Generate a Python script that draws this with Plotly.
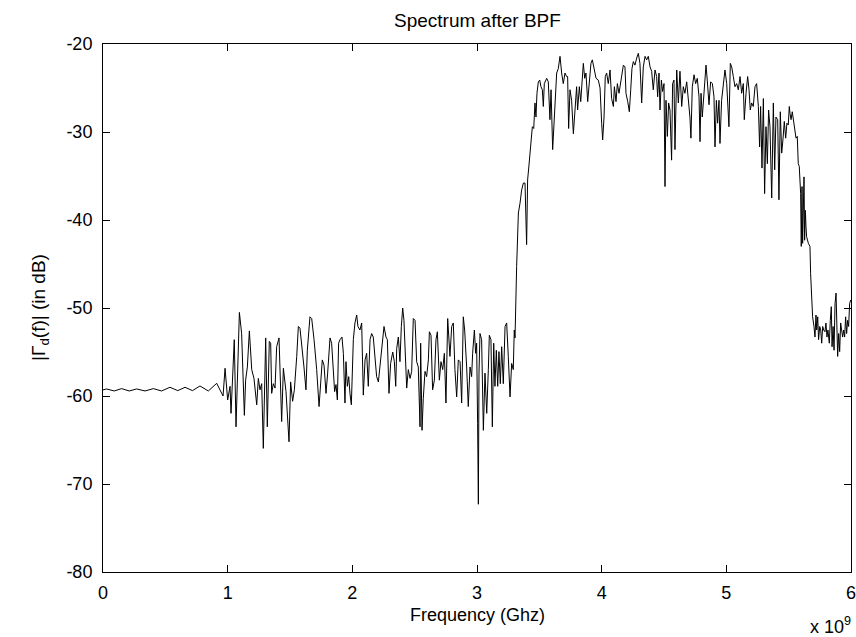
import plotly.graph_objects as go

# ---- data (frequency in GHz, level in dB) ----
flat_f = [0.000, 0.029, 0.090, 0.150, 0.210, 0.270, 0.337, 0.404, 0.470, 0.537,
          0.600, 0.658, 0.718, 0.778, 0.845, 0.912, 0.963]
flat_db = [-59.31, -59.20, -59.43, -59.16, -59.43, -59.20, -59.43, -59.16, -59.43, -59.01,
           -59.39, -59.01, -59.39, -58.86, -59.43, -58.56, -60.00]

low_f = [0.979, 1.000, 1.019, 1.027, 1.046, 1.053, 1.067, 1.080, 1.094, 1.112,
         1.134, 1.144, 1.158, 1.174, 1.193, 1.211, 1.233, 1.246, 1.259, 1.273,
         1.286, 1.305, 1.318, 1.334, 1.345, 1.353, 1.366, 1.380, 1.393, 1.412,
         1.433, 1.447, 1.468, 1.492, 1.505, 1.521, 1.535, 1.554, 1.567, 1.580,
         1.594, 1.612, 1.628, 1.639, 1.660, 1.674, 1.693, 1.714, 1.733, 1.746,
         1.759, 1.773, 1.789, 1.802, 1.816,
         1.821, 1.834, 1.848, 1.858, 1.869, 1.880, 1.890, 1.901, 1.917, 1.928,
         1.941, 1.949, 1.960, 1.971, 1.981, 1.992, 2.008, 2.021, 2.035, 2.045,
         2.061, 2.075, 2.088, 2.102, 2.115, 2.128, 2.142, 2.155, 2.168, 2.182,
         2.195, 2.209, 2.222, 2.235, 2.254, 2.270, 2.281, 2.294, 2.307, 2.324,
         2.337, 2.348, 2.356, 2.369, 2.382, 2.393, 2.404, 2.414, 2.428, 2.436,
         2.449, 2.463, 2.476, 2.489, 2.503, 2.516, 2.529, 2.543, 2.548, 2.559,
         2.569, 2.583, 2.596, 2.610, 2.618, 2.631, 2.644, 2.658, 2.671, 2.682,
         2.698, 2.711, 2.725, 2.738, 2.751, 2.757, 2.765, 2.783, 2.797, 2.810,
         2.823, 2.837, 2.850, 2.864, 2.877, 2.890, 2.901,
         2.917, 2.930, 2.944, 2.957, 2.965, 2.979, 2.989, 2.997, 3.005, 3.011,
         3.016, 3.024, 3.037, 3.051, 3.064, 3.078, 3.091, 3.099, 3.112, 3.123,
         3.134, 3.144, 3.155, 3.166, 3.176, 3.187, 3.198, 3.211, 3.225, 3.238,
         3.251, 3.265, 3.278, 3.291, 3.299, 3.305]
low_db = [-56.85, -60.45, -58.9, -61.97, -54.2, -53.6, -63.5, -56.3, -50.5, -52.9,
          -62.2, -58.2, -56.7, -52.6, -57.0, -58.0, -61.0, -58.0, -59.3, -58.6,
          -65.95, -53.4, -63.5, -53.8, -54.0, -59.7, -58.6, -59.1, -54.4, -53.4,
          -62.9, -56.85, -59.5, -65.2, -58.4, -60.6, -59.3, -55.5, -52.1, -52.3,
          -54.0, -56.7, -59.3, -54.8, -51.0, -51.2, -53.6, -57.0, -61.2, -58.2,
          -55.9, -56.5, -59.7, -57.4, -53.6,
          -53.4, -54.0, -58.2, -59.5, -58.7, -60.45, -54.0, -53.6, -53.3, -55.15,
          -60.8, -56.1, -58.9, -57.8, -59.7, -61.0, -53.6, -51.7, -50.8, -52.1,
          -52.5, -51.7, -59.9, -55.9, -55.15, -58.9, -53.6, -52.9, -53.3, -55.9,
          -57.8, -58.4, -56.7, -54.8, -52.1, -53.3, -53.6, -59.7, -56.3, -55.0,
          -56.1, -58.9, -54.6, -53.3, -56.1, -52.1, -50.0, -51.4, -55.7, -59.1,
          -57.0, -58.0, -57.2, -51.2, -51.4, -56.1, -56.7, -63.5, -54.0, -63.9,
          -60.3, -57.2, -57.8, -55.9, -52.7, -53.1, -59.3, -58.2, -53.6, -52.7,
          -58.2, -56.1, -57.0, -55.15, -60.8, -54.0, -51.2, -55.5, -52.1, -51.7,
          -57.0, -60.1, -55.9, -56.1, -60.8, -51.0, -52.5,
          -56.7, -61.2, -56.7, -57.8, -55.15, -52.5, -55.15, -54.0, -63.1, -72.3,
          -57.4, -52.9, -53.6, -63.9, -57.4, -61.97, -57.0, -53.1, -53.6, -63.5,
          -54.0, -58.9, -54.8, -58.9, -54.96, -58.6, -54.4, -58.6, -52.1, -51.7,
          -55.5, -60.1, -56.3, -57.0, -52.5, -53.4]

rise_f = [3.318, 3.332, 3.345, 3.358, 3.372, 3.385, 3.398, 3.406, 3.417, 3.433,
          3.444, 3.455, 3.465, 3.473, 3.481, 3.492, 3.503, 3.513, 3.524, 3.532,
          3.540]
rise_db = [-45.3, -39.2, -38.1, -36.6, -35.8, -35.8, -42.8, -35.45, -33.75, -30.9,
           -29.4, -29.6, -26.7, -28.3, -25.6, -24.3, -24.1, -24.85, -25.2, -27.1,
           -24.5]

band_f = [3.559, 3.572, 3.585, 3.594, 3.607, 3.618, 3.628, 3.639, 3.652, 3.666,
          3.679, 3.692, 3.706, 3.719, 3.727, 3.735, 3.746, 3.759, 3.773, 3.786,
          3.799, 3.807, 3.821, 3.832, 3.842, 3.853, 3.864, 3.874, 3.888, 3.901,
          3.914, 3.925, 3.938, 3.955, 3.973, 3.987, 4.000, 4.008, 4.019, 4.029,
          4.040, 4.053, 4.067, 4.080, 4.094, 4.102, 4.115, 4.126, 4.139, 4.152,
          4.163, 4.174, 4.187, 4.195, 4.209, 4.222, 4.233, 4.243, 4.254, 4.267,
          4.281, 4.294, 4.307, 4.321, 4.334, 4.348, 4.361, 4.374, 4.388, 4.401,
          4.414, 4.428, 4.441, 4.449, 4.460, 4.468, 4.479, 4.489, 4.500, 4.508,
          4.516, 4.527, 4.537, 4.548, 4.561, 4.569, 4.580, 4.588, 4.602, 4.615,
          4.628, 4.642, 4.655, 4.668, 4.682, 4.695, 4.708, 4.716, 4.727, 4.741,
          4.754, 4.767, 4.781, 4.789, 4.797, 4.807, 4.821, 4.837, 4.847, 4.861,
          4.874, 4.888, 4.901, 4.909, 4.920, 4.930, 4.941, 4.949, 4.962, 4.976,
          4.989, 5.003, 5.011, 5.021, 5.032, 5.043, 5.056, 5.069, 5.083, 5.096,
          5.110, 5.123, 5.136, 5.144, 5.158, 5.171, 5.182, 5.192, 5.203, 5.216,
          5.230, 5.243, 5.257, 5.267, 5.275, 5.286, 5.297, 5.307, 5.318, 5.329,
          5.339, 5.350, 5.364, 5.377, 5.388, 5.398, 5.412, 5.422, 5.433, 5.444,
          5.454, 5.465, 5.476, 5.486, 5.497, 5.505]
band_db = [-23.9, -24.3, -28.6, -25.2, -32.0, -28.6, -25.2, -23.3, -22.8, -21.4,
           -23.3, -24.5, -23.3, -23.7, -23.7, -29.6, -25.2, -26.4, -30.2, -27.1,
           -24.85, -27.5, -24.85, -26.55, -24.85, -22.2, -23.9, -23.3, -26.55, -24.1,
           -22.2, -21.8, -22.8, -23.9, -24.1, -25.0, -29.0, -30.9, -28.3, -23.7,
           -23.3, -24.5, -22.95, -26.2, -27.1, -24.85, -26.55, -24.5, -25.6, -24.5,
           -23.3, -22.4, -22.6, -25.6, -26.55, -27.7, -25.2, -22.8, -22.0, -22.4,
           -21.6, -21.06, -22.2, -26.7, -22.6, -21.4, -21.8, -21.4, -22.6, -23.1,
           -25.2, -22.95, -23.7, -26.0, -23.3, -27.5, -24.1, -25.4, -24.5, -36.2,
           -26.4, -30.5, -26.7, -27.5, -33.2, -24.5, -24.1, -32.0, -22.95, -26.7,
           -23.1, -27.1, -24.85, -25.6, -24.3, -26.4, -28.3, -30.7, -24.85, -23.5,
           -24.5, -23.9, -26.0, -31.1, -25.6, -28.3, -25.0, -22.4, -24.1, -26.9,
           -24.3, -24.5, -26.0, -31.7, -26.4, -29.0, -26.4, -31.3, -26.4, -24.1,
           -22.95, -24.5, -27.1, -29.4, -22.2, -22.6, -23.7, -24.85, -24.5, -25.2,
           -23.7, -25.6, -24.5, -28.6, -25.6, -23.7, -25.2, -27.5, -26.7, -27.1,
           -24.85, -24.5, -27.1, -31.7, -27.1, -34.1, -26.2, -37.0, -29.4, -33.6,
           -27.5, -29.4, -37.5, -26.7, -34.3, -28.3, -28.6, -37.7, -27.7, -32.4,
           -30.9, -28.8, -30.7, -29.0, -29.2, -27.1]

fall_f = [5.511, 5.519, 5.529, 5.537, 5.548, 5.559, 5.569, 5.577, 5.585, 5.596,
          5.601, 5.607, 5.612, 5.618, 5.623, 5.628, 5.634, 5.639, 5.644, 5.658,
          5.671, 5.676, 5.684, 5.692, 5.703, 5.711, 5.719, 5.725, 5.733, 5.740,
          5.749, 5.757, 5.765, 5.773, 5.781, 5.791, 5.799, 5.807, 5.815, 5.826,
          5.834, 5.842, 5.848, 5.856, 5.864, 5.872, 5.880, 5.885, 5.893, 5.901,
          5.909, 5.917, 5.925, 5.933, 5.941, 5.949, 5.957, 5.965, 5.973, 5.981,
          5.989, 5.997]
fall_db = [-27.9, -28.6, -27.7, -28.6, -29.8, -30.7, -30.5, -33.6, -33.9, -37.0,
           -43.0, -36.2, -42.65, -35.45, -35.1, -42.3, -38.9, -40.8, -41.9, -42.65,
           -43.0, -46.1, -49.1, -51.0, -52.1, -53.3, -50.8, -52.5, -51.0, -53.6,
           -52.1, -52.5, -54.0, -52.1, -52.5, -52.7, -51.7, -53.3, -52.5, -54.0,
           -51.4, -49.85, -54.4, -52.1, -54.8, -49.5, -48.3, -52.1, -55.5, -52.9,
           -54.96, -51.7, -52.5, -53.3, -52.5, -53.3, -51.0, -52.9, -51.4, -52.1,
           -49.5, -49.1]

x_ticks = [0, 1, 2, 3, 4, 5, 6]
y_ticks = [-80, -70, -60, -50, -40, -30, -20]

freq_ghz = flat_f + low_f + rise_f + band_f + fall_f
level_db = flat_db + low_db + rise_db + band_db + fall_db
freq_hz = [f * 1e9 for f in freq_ghz]

FONT = "Liberation Sans, Arial, sans-serif"
FS = 18

fig = go.Figure()
fig.add_trace(go.Scatter(x=freq_hz, y=level_db, mode="lines",
                         line=dict(color="black", width=1), showlegend=False))

axis_common = dict(showgrid=False, zeroline=False, showline=True, linecolor="black",
                   linewidth=1, mirror="ticks", ticks="inside", ticklen=7,
                   tickcolor="black", tickwidth=1, ticklabeloverflow="allow",
                   tickfont=dict(family=FONT, size=FS, color="black"))

fig.update_xaxes(range=[0, 6e9], tickvals=[t * 1e9 for t in x_ticks],
                 ticktext=[str(t) for t in x_ticks], ticklabelstandoff=4, **axis_common)
fig.update_yaxes(range=[-80, -20], tickvals=y_ticks,
                 ticktext=[str(t) for t in y_ticks], ticklabelstandoff=6, **axis_common)

fig.update_layout(
    width=856, height=637,
    margin=dict(l=103, r=5, t=44, b=65, autoexpand=False),
    paper_bgcolor="white", plot_bgcolor="white",
    font=dict(family=FONT, color="black"),
    annotations=[
        dict(text="Spectrum after BPF", x=0.5, y=1, xref="paper", yref="paper",
             xanchor="center", yanchor="middle", yshift=24, showarrow=False,
             font=dict(family=FONT, size=FS + 1, color="black")),
        dict(text="Frequency (Ghz)", x=0.5, y=0, xref="paper", yref="paper",
             xanchor="center", yanchor="middle", yshift=-43, showarrow=False,
             font=dict(family=FONT, size=FS, color="black")),
        dict(text="|Γ<sub>d</sub>(f)| (in dB)", x=0, y=0.5, xref="paper", yref="paper",
             xanchor="center", yanchor="middle", xshift=-63, textangle=-90,
             showarrow=False, font=dict(family=FONT, size=FS + 1, color="black")),
        dict(text="x 10<sup>9</sup>", x=1, y=0, xref="paper", yref="paper",
             xanchor="right", yanchor="middle", yshift=-53, xshift=2, showarrow=False,
             font=dict(family=FONT, size=FS, color="black")),
    ],
)

fig.write_html("out.html")
